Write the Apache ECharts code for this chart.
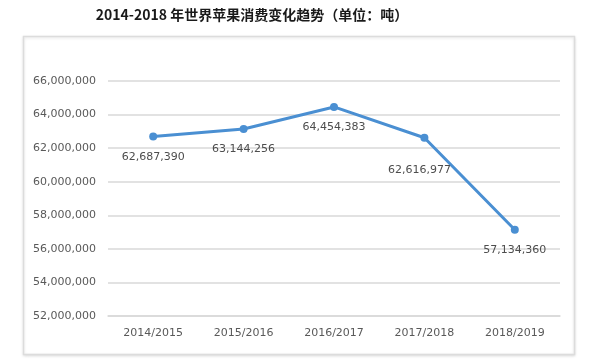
<!DOCTYPE html>
<html><head><meta charset="utf-8">
<script src="https://cdn.jsdelivr.net/npm/echarts@6/dist/echarts.min.js"></script>
<style>html,body{margin:0;padding:0;background:#fff}#c{width:601px;height:364px}</style>
</head><body><div id="c"></div>
<script>
const categories = ['2014/2015','2015/2016','2016/2017','2017/2018','2018/2019'];
const consumption = [62687390, 63144256, 64454383, 62616977, 57134360];
const yTicks = [52000000, 54000000, 56000000, 58000000, 60000000, 62000000, 64000000, 66000000];
const titleText = '2014-2018 年世界苹果消费变化趋势（单位：吨）';

const labelOffsets = [[0,0],[0,0],[0,0],[-5,12],[0,0]];
const chart = echarts.init(document.getElementById('c'), null, {renderer:'canvas'});
const fmt = v => v.toLocaleString('en-US');
chart.setOption({
  animation:false,
  title:{text:titleText,left:247,top:3,textAlign:'center',
    textStyle:{fontFamily:'"Noto Sans CJK SC", sans-serif',fontSize:14,fontWeight:'bold',color:'#1a1a1a'}},
  graphic:[{type:'rect',shape:{x:23.5,y:36.5,width:551,height:318},
    style:{fill:'#fff',stroke:'#dcdcdc',lineWidth:1.5,shadowBlur:3,shadowColor:'rgba(0,0,0,0.12)',shadowOffsetY:1},z:-10}],
  grid:{left:108,right:41,top:81,bottom:48},
  xAxis:{type:'category',data:categories,boundaryGap:true,
    axisLine:{lineStyle:{color:'#d9d9d9',width:1.5}},axisTick:{show:false},
    axisLabel:{margin:12,color:'#595959',fontFamily:'DejaVu Sans',fontSize:11}},
  yAxis:{type:'value',min:yTicks[0],max:yTicks[yTicks.length-1],interval:2000000,
    axisLine:{show:false},axisTick:{show:false},
    splitLine:{lineStyle:{color:'#d9d9d9',width:1.5}},
    axisLabel:{margin:12,color:'#595959',fontFamily:'DejaVu Sans',fontSize:11,formatter:v=>fmt(v)}},
  series:[{type:'line',data:consumption.map((v,i)=>({value:v,label:{offset:labelOffsets[i]}})),
    symbol:'circle',symbolSize:8,
    lineStyle:{color:'#4a8fd2',width:3},itemStyle:{color:'#4a8fd2'},
    label:{show:true,position:'bottom',distance:11,color:'#4d4d4d',fontFamily:'DejaVu Sans',fontSize:11,
      formatter:p=>fmt(p.value)}}]
});
</script></body></html>
